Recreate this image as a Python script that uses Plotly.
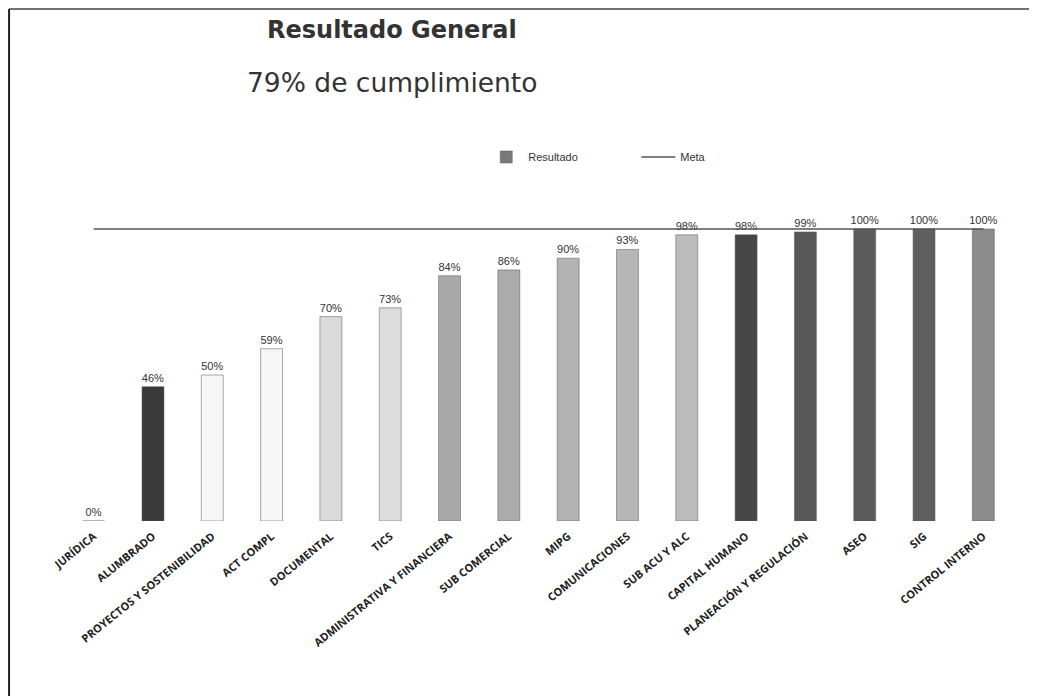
import plotly.graph_objects as go

categories = ["JURÍDICA", "ALUMBRADO", "PROYECTOS Y SOSTENIBILIDAD", "ACT COMPL", "DOCUMENTAL",
              "TICS", "ADMINISTRATIVA Y FINANCIERA", "SUB COMERCIAL", "MIPG", "COMUNICACIONES",
              "SUB ACU Y ALC", "CAPITAL HUMANO", "PLANEACIÓN Y REGULACIÓN", "ASEO", "SIG", "CONTROL INTERNO"]
resultado = [0, 46, 50, 59, 70, 73, 84, 86, 90, 93, 98, 98, 99, 100, 100, 100]
meta = [100] * 16
bar_colors = ["#7a7a7a", "#3a3a3a", "#f6f6f6", "#f6f6f6", "#dadada", "#dcdcdc", "#a9a9a9", "#ababab",
              "#b2b2b2", "#b6b6b6", "#bcbcbc", "#474747", "#575757", "#5c5c5c", "#5f5f5f", "#8c8c8c"]

fig = go.Figure()
fig.add_trace(go.Bar(
    x=categories, y=resultado, name="Resultado",
    marker=dict(color=bar_colors, line=dict(color="#555555", width=0.5)),
    text=[f"{v}%" for v in resultado], textposition="outside", constraintext="none",
    textfont=dict(family="Liberation Sans Narrow, Liberation Sans, sans-serif", size=11, color="#333333"),
    cliponaxis=False,
))
fig.add_trace(go.Scatter(
    x=categories, y=meta, name="Meta", mode="lines",
    line=dict(color="#555555", width=1.5),
))

fig.update_layout(
    width=1037, height=696,
    margin=dict(l=56, r=32, t=180, b=183),
    paper_bgcolor="white", plot_bgcolor="white",
    bargap=0.63,
    showlegend=True,
    legend=dict(orientation="h", x=0.603, xanchor="center", y=1.093, yanchor="middle",
                font=dict(family="Liberation Sans, sans-serif", size=11, color="#333333"),
                itemwidth=34, entrywidth=103, entrywidthmode="pixels", traceorder="normal"),
    xaxis=dict(tickangle=-39, showline=False, showgrid=False, ticks="", ticklabelstandoff=6,
               tickfont=dict(family="Open Sans, sans-serif", size=11, color="#222222", weight="bold")),
    yaxis=dict(range=[0, 114.04], visible=False, showgrid=False),
    annotations=[
        dict(text="<b>Resultado General</b>", xref="paper", yref="paper", x=0.212, y=1.474,
             xanchor="left", yanchor="middle", showarrow=False,
             font=dict(family="DejaVu Sans, sans-serif", size=24, color="#333333")),
        dict(text="79% de cumplimiento", xref="paper", yref="paper", x=0.1907, y=1.318,
             xanchor="left", yanchor="middle", showarrow=False,
             font=dict(family="DejaVu Sans, sans-serif", size=26.5, color="#333333")),
    ],
    shapes=[
        dict(type="line", xref="paper", yref="paper", x0=-0.0579, x1=-0.0579, y0=-0.56, y1=1.5375,
             line=dict(color="#222222", width=2)),
        dict(type="line", xref="paper", yref="paper", x0=-0.0579, x1=1.04, y0=1.5375, y1=1.5375,
             line=dict(color="#444444", width=1.5)),
    ],
)

fig.write_html("out.html")
